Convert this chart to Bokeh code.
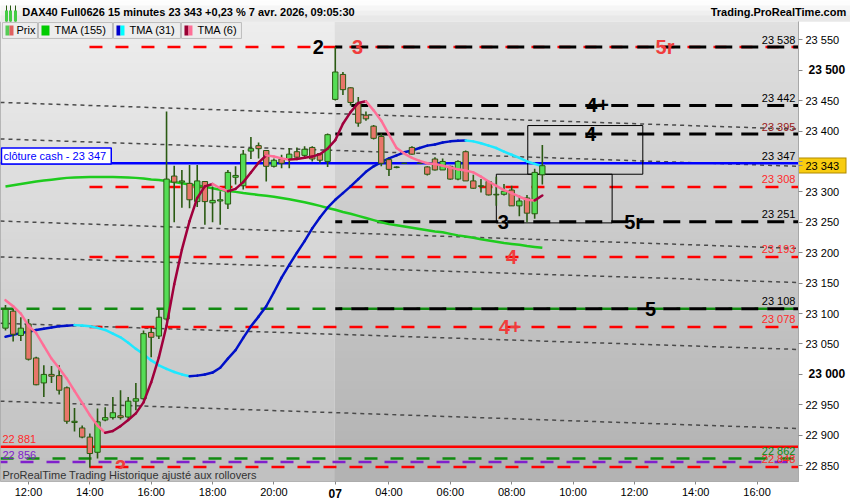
import numpy as np
from bokeh.plotting import figure
from bokeh.models import Range1d, FixedTicker, Label, BoxAnnotation, LinearAxis
from bokeh.embed import file_html
from bokeh.resources import INLINE

# ---------------- data ----------------
time_ticks = [3, 11, 19, 27, 35, 43, 50, 58, 66, 74, 82, 90, 98]
time_labels = ["12:00", "14:00", "16:00", "18:00", "20:00", "07", "04:00",
               "06:00", "08:00", "10:00", "12:00", "14:00", "16:00"]
bold_time_ticks = [43]
price_ticks = [22850, 22900, 22950, 23000, 23050, 23100, 23150, 23200,
               23250, 23300, 23350, 23400, 23450, 23500, 23550]
bold_price_ticks = [23000, 23500]

header_title = "DAX40 Full0626 15 minutes 23 343 +0,23 % 7 avr. 2026, 09:05:30"
header_site = "Trading.ProRealTime.com"

opens = [23076, 23104, 23064, 23083, 23027, 22986, 23000, 22998, 22978, 22921,
         22912, 22897, 22872, 22925, 22929, 22932, 22930, 22956, 22960, 23069,
         23063, 23091, 23326, 23316, 23314, 23284, 23317, 23282, 23285, 23280,
         23324, 23310, 23367, 23376, 23368, 23342, 23354, 23354, 23366, 23360,
         23373, 23363, 23350,
         23452, 23493, 23471, 23446, 23426, 23408, 23391, 23353, 23340, 23347,
         23373, 23347, 23341, 23354, 23336, 23342, 23321, 23366, 23318, 23309,
         23317, 23295, 23296, 23303, 23277, 23290, 23264, 23328]
highs = [23114, 23108, 23094, 23091, 23029, 23015, 23014, 23015, 22980, 22945,
         22916, 22903, 22944, 22946, 22963, 22974, 22963, 22986, 23072, 23077,
         23107, 23432, 23343, 23336, 23344, 23344, 23318, 23309, 23301, 23336,
         23342, 23369, 23390, 23381, 23369, 23355, 23361, 23372, 23373, 23375,
         23375, 23363, 23396,
         23538, 23497, 23472, 23456, 23432, 23410, 23396, 23355, 23342, 23348,
         23375, 23348, 23342, 23357, 23355, 23343, 23352, 23368, 23328, 23321,
         23318, 23325, 23313, 23310, 23294, 23295, 23338, 23377]
lows = [23072, 23054, 23055, 23023, 22982, 22963, 22986, 22967, 22919, 22906,
        22895, 22847, 22862, 22923, 22926, 22926, 22927, 22941, 22957, 23028,
        23058, 23088, 23250, 23274, 23273, 23275, 23246, 23250, 23246, 23272,
        23312, 23304, 23354, 23355, 23317, 23340, 23339, 23339, 23353, 23354,
        23350, 23347, 23341,
        23450, 23459, 23442, 23407, 23417, 23386, 23342, 23326, 23339, 23346,
        23361, 23346, 23327, 23335, 23336, 23320, 23319, 23318, 23305, 23299,
        23294, 23277, 23294, 23277, 23260, 23250, 23256, 23312]
closes = [23107, 23066, 23076, 23025, 22983, 23000, 22997, 22974, 22923, 22923,
          22897, 22870, 22922, 22929, 22937, 22929, 22956, 22960, 23067, 23061,
          23094, 23321, 23316, 23318, 23287, 23318, 23284, 23286, 23287, 23332,
          23327, 23362, 23371, 23371, 23342, 23352, 23347, 23362, 23357, 23370,
          23354, 23352, 23394,
          23497, 23468, 23447, 23413, 23420, 23388, 23347, 23337, 23341, 23347,
          23362, 23347, 23329, 23336, 23350, 23321, 23350, 23318, 23306, 23310,
          23295, 23296, 23301, 23277, 23285, 23265, 23332, 23343]

tma155 = [23309, 23311, 23313, 23315, 23317, 23318.5, 23320, 23321.5, 23323, 23323.5,
          23324, 23324.3, 23324.5, 23324.5, 23324.3, 23324, 23323.6, 23323, 23322, 23320.5,
          23319.5, 23318, 23316, 23314, 23312, 23310.5, 23308.5, 23306, 23303.5, 23301.5,
          23300, 23298, 23296.5, 23295, 23293.5, 23292, 23290, 23288, 23285.5, 23283,
          23280, 23277, 23273.5, 23270.5, 23267, 23264, 23260.5, 23257, 23253.5, 23250,
          23247, 23245, 23243, 23241, 23239, 23237, 23235, 23233.5, 23231, 23228.5,
          23226.5, 23224.5, 23222, 23220, 23218, 23216, 23214.5, 23213, 23211, 23209.5, 23208]
tma31 = [23062, 23065, 23068, 23070, 23073, 23075, 23077, 23079, 23080, 23081,
         23080.5, 23079, 23076.5, 23073, 23067, 23061, 23052, 23042, 23033, 23023,
         23015, 23009, 23004, 23000, 22997, 22998, 23000, 23003, 23011, 23026,
         23040, 23060, 23079, 23095, 23112, 23135, 23159, 23180, 23200, 23219,
         23240, 23258, 23274, 23287, 23298, 23309, 23321, 23333, 23342, 23349,
         23355, 23360, 23365, 23368, 23372, 23376, 23378, 23381, 23383, 23384,
         23384.5, 23383, 23380, 23376, 23372, 23366, 23361, 23356, 23350, 23346, 23342]
tma6 = [23122, 23112, 23100, 23080, 23068, 23047, 23026, 23010, 22993, 22973,
        22953, 22933, 22916, 22904, 22907, 22915, 22925, 22936, 22954, 22987,
        23028, 23080, 23148, 23205, 23252, 23290, 23309, 23313, 23306, 23301,
        23305, 23316, 23332, 23348, 23360, 23358, 23355, 23353, 23354, 23356,
        23358, 23362, 23371, 23385, 23412, 23431, 23446, 23449, 23434, 23417,
        23394, 23372, 23363, 23356, 23351, 23347, 23346, 23343, 23340, 23337,
        23335, 23332, 23325, 23317, 23310, 23303, 23298, 23292, 23287, 23286, 23294]

red_levels = [23538, 23308, 23193, 23078, 22848]
black_levels = [23538, 23442, 23395, 23251, 23108]
green_levels = [23108, 22862]
purple_levels = [22856]
support_level = 22881
cash_close = 23347
last_price = 23343

channel_start = [23447, 23387, 23252, 23193, 23084, 22956]
channel_end = [23403, 23342, 23207, 23151, 23041, 22911]

zone_left = [68.1, 64.0]
zone_right = [83.1, 79.1]
zone_bottom = [23329, 23249]
zone_top = [23409, 23329]

mark_text = ["2", "3", "5r", "4+", "4", "3", "5r", "4", "5", "4+", "2"]
mark_level = [23538, 23538, 23538, 23442, 23395, 23251, 23251, 23193, 23108, 23078, 22848]
mark_slot = [40.8, 45.9, 86.0, 77.2, 76.3, 64.9, 81.9, 66.0, 84.1, 65.8, 15.0]
mark_red = [False, True, True, False, False, False, False, True, False, True, True]

right_labels = [23538, 23442, 23395, 23347, 23308, 23251, 23193, 23108, 23078, 22862, 22848]
right_label_colors = ["#000000", "#000000", "#9a1a1a", "#000000", "#ff2a2a", "#000000",
                      "#ff2a2a", "#000000", "#ff2a2a", "#108a10", "#ff2a2a"]

# ---------------- helpers ----------------
def fmt(v):
    return f"{v:,.0f}".replace(",", " ")


X0, X1 = -0.65, 103.4
Y0, Y1 = 22824, 23580


def X(px):
    return (px - 5.0) / 7.67


def Y(py):
    return 23550 - (py - 39.3) / 0.6114


FONT = "Liberation Sans"


def gradient(top, bottom, n=120):
    img = np.empty((n, 1), dtype=np.uint32)
    v = img.view(dtype=np.uint8).reshape((n, 1, 4))
    g = np.linspace(bottom, top, n).astype(np.uint8)
    v[:, 0, 0] = g
    v[:, 0, 1] = g
    v[:, 0, 2] = g
    v[:, 0, 3] = 255
    return img


def flat_axis(ticks, labels=None, **kw):
    """Axis that occupies no room of its own (used for header, price tag, bold labels)."""
    base = dict(ticker=FixedTicker(ticks=ticks),
                major_label_overrides=labels if labels is not None else {t: "" for t in ticks},
                axis_line_color=None, major_tick_in=0, major_tick_out=0,
                minor_tick_in=0, minor_tick_out=0, minor_tick_line_color=None,
                major_label_standoff=0, major_label_text_font=FONT,
                major_label_text_color="#000000")
    base.update(kw)
    return LinearAxis(**base)


# ---------------- figure ----------------
p = figure(width=850, height=500, x_range=Range1d(X0, X1), y_range=Range1d(Y0, Y1),
           output_backend="svg", toolbar_location=None, y_axis_location=None,
           x_axis_location=None,
           min_border_left=0, min_border_right=52, min_border_top=21, min_border_bottom=17,
           border_fill_color="white", outline_line_color="#a8a8a8")
p.grid.visible = False

split = 42.9
p.image_rgba(image=[gradient(238, 192)], x=X0, y=Y0, dw=split - X0, dh=Y1 - Y0)
p.image_rgba(image=[gradient(224, 178)], x=split, y=Y0, dw=X1 - split + 1, dh=Y1 - Y0)

# sloping channel lines
p.segment(x0=[X0] * len(channel_start), y0=channel_start, x1=[X1] * len(channel_end), y1=channel_end,
          line_color="#4a4a4a", line_width=1.5, line_dash="4 4")

# horizontal levels
p.segment(x0=[X0] * len(green_levels), y0=green_levels, x1=[X1] * len(green_levels), y1=green_levels,
          line_color="#108a10", line_width=2.5, line_dash="13 13")
p.segment(x0=[X0] * len(purple_levels), y0=purple_levels, x1=[X1] * len(purple_levels), y1=purple_levels,
          line_color="#8020cc", line_width=2.5, line_dash="13 13", line_dash_offset=6)
p.segment(x0=[10.95] * len(red_levels), y0=red_levels, x1=[X1] * len(red_levels), y1=red_levels,
          line_color="#ff0000", line_width=2.5, line_dash="13 13")
p.segment(x0=[43.0] * len(black_levels), y0=black_levels, x1=[X1] * len(black_levels), y1=black_levels,
          line_color="#000000", line_width=3, line_dash="17 9", line_dash_offset=10)
p.segment(x0=[X0], y0=[support_level], x1=[X1], y1=[support_level], line_color="#ff0000", line_width=2.5)
p.segment(x0=[X0], y0=[cash_close], x1=[X1], y1=[cash_close], line_color="#0000ff", line_width=2.5)

# zones
p.quad(left=zone_left, right=zone_right, bottom=zone_bottom, top=zone_top,
       fill_color=None, line_color="#000000", line_width=1)

# moving averages
idx = list(range(len(closes)))
p.line(idx, tma155, line_color="#1ecb1e", line_width=2.5)


def colored(vals, up, down):
    x0 = idx[:-1]
    x1 = idx[1:]
    y0 = vals[:-1]
    y1 = vals[1:]
    cols = [up if b >= a else down for a, b in zip(y0, y1)]
    p.segment(x0=x0, y0=y0, x1=x1, y1=y1, line_color=cols, line_width=2.5, line_cap="round")


colored(tma31, "#0010c8", "#1ee8ff")

# candles
inc = [c >= o for o, c in zip(opens, closes)]
p.segment(x0=idx, y0=lows, x1=idx, y1=highs, line_color="#2a5a12", line_width=1.6)
p.vbar(x=idx, width=0.7, top=[max(o, c) for o, c in zip(opens, closes)],
       bottom=[min(o, c) for o, c in zip(opens, closes)],
       fill_color=["#55dd55" if u else "#e8766a" for u in inc],
       line_color="#2a5a12", line_width=1)

colored(tma6, "#a0003c", "#ff6f97")

# ---------------- header (above the frame) ----------------
hx = [X(425)]
for length, shade in [(21, "#fdfdfd"), (16, "#f6f6f6"), (11, "#efefef"), (6, "#e8e8e8")]:
    p.add_layout(flat_axis(hx, major_tick_in=-length, major_tick_line_width=850,
                           major_tick_line_color=shade), "above")
icon_x = [X(6), X(10.5), X(15)]
p.add_layout(flat_axis(icon_x, major_tick_in=-16, major_tick_line_width=1,
                       major_tick_line_color="#2a5a12"), "above")
p.add_layout(flat_axis(icon_x, major_tick_in=-11, major_tick_line_width=3,
                       major_tick_line_color="#44cc44"), "above")
p.add_layout(flat_axis([X(188), X(778)],
                       labels={X(188): header_title, X(778): header_site},
                       major_label_standoff=4, major_label_text_font_size="11px",
                       major_label_text_font_style="bold"), "above")

# ---------------- axes ----------------
# current price tag: zero-size axes whose single tick is drawn as a filled bar
p.add_layout(flat_axis([last_price], major_tick_in=-48, major_tick_line_width=16,
                       major_tick_line_color="#b08a00"), "right")
p.add_layout(flat_axis([last_price], major_tick_in=-47, major_tick_line_width=14,
                       major_tick_line_color="#f8cc10"), "right")

axis_ticks = price_ticks + [last_price]
overrides = {t: ("" if t in bold_price_ticks else fmt(t)) for t in price_ticks}
overrides[23350] = ""          # hidden behind the price tag in the original
overrides[last_price] = fmt(last_price)
yax = LinearAxis(ticker=FixedTicker(ticks=axis_ticks), major_label_overrides=overrides,
                 axis_line_color="#a8a8a8", major_tick_in=0, major_tick_out=4,
                 major_tick_line_color="#888888", minor_tick_line_color=None,
                 minor_tick_in=0, minor_tick_out=0, major_label_standoff=3, major_label_text_font=FONT,
                 major_label_text_font_size="11px", major_label_text_color="#000000")
p.add_layout(yax, "right")
p.add_layout(flat_axis(bold_price_ticks, labels={t: fmt(t) for t in bold_price_ticks},
                       major_tick_line_color=None, major_label_standoff=-34,
                       major_label_text_font_size="12px", major_label_text_font_style="bold"), "right")

xax = LinearAxis(ticker=FixedTicker(ticks=time_ticks),
                 major_label_overrides={t: ("" if t in bold_time_ticks else s)
                                        for t, s in zip(time_ticks, time_labels)},
                 axis_line_color=None, major_tick_in=0, major_tick_out=3,
                 major_tick_line_color="#888888", minor_tick_line_color=None,
                 minor_tick_in=0, minor_tick_out=0, major_label_standoff=1,
                 major_label_text_font=FONT, major_label_text_font_size="11px",
                 major_label_text_color="#000000")
p.add_layout(xax, "below")
p.add_layout(flat_axis(bold_time_ticks,
                       labels={t: s for t, s in zip(time_ticks, time_labels) if t in bold_time_ticks},
                       major_tick_line_color=None, major_label_standoff=-12,
                       major_label_text_font_size="12px", major_label_text_font_style="bold"), "below")

# ---------------- annotations ----------------
for t, lv, s, r in zip(mark_text, mark_level, mark_slot, mark_red):
    p.add_layout(Label(x=s, y=lv, text=t, text_align="center", text_baseline="middle",
                       text_font=FONT, text_font_style="bold", text_font_size="20px",
                       text_color="#f03c3c" if r else "#000000"))

# status strip at the foot of the chart (hides what lies under it)
p.add_layout(BoxAnnotation(left=X0, right=split, bottom=Y0, top=Y(470.5), fill_color="#c1c1c1",
                           fill_alpha=1, line_color=None))
p.add_layout(BoxAnnotation(left=split, right=X1, bottom=Y0, top=Y(470.5), fill_color="#b3b3b3",
                           fill_alpha=1, line_color=None))

for lv, c in zip(right_labels, right_label_colors):
    p.add_layout(Label(x=X(795), y=lv + 2.5, text=fmt(lv), text_align="right", text_baseline="bottom",
                       text_font=FONT, text_font_size="11px", text_color=c))

p.add_layout(Label(x=X(2), y=support_level + 2.5, text=fmt(support_level), text_align="left",
                   text_baseline="bottom", text_font=FONT, text_font_size="11px", text_color="#ff2a2a"))
p.add_layout(Label(x=X(2), y=purple_levels[0] + 2.5, text=fmt(purple_levels[0]), text_align="left",
                   text_baseline="bottom", text_font=FONT, text_font_size="11px", text_color="#8020cc"))

p.add_layout(Label(x=X(1), y=Y(156), text="clôture cash -  " + fmt(cash_close), text_align="left",
                   text_baseline="middle", text_font=FONT, text_font_size="11px", text_color="#0000ff",
                   background_fill_color="white", border_line_color="#0000ff", border_line_width=1.5,
                   padding=2))

# legend row
for l, r in [(2, 37), (38, 112), (113, 180), (181, 241)]:
    p.add_layout(BoxAnnotation(left=X(l), right=X(r), top=Y(22), bottom=Y(38),
                               fill_color="#ededed", fill_alpha=1, line_color="#bdbdbd",
                               line_alpha=1, line_width=1))
for l, r, c in [(5, 9, "#55cc55"), (9, 13, "#e06060"), (41, 49, "#00cc00"), (116, 120, "#0000cc"),
                (120, 124, "#00ffff"), (184, 188, "#990033"), (188, 192, "#ff6f97")]:
    p.add_layout(BoxAnnotation(left=X(l), right=X(r), top=Y(25), bottom=Y(35),
                               fill_color=c, fill_alpha=1, line_color=None))
for t, l in [("Prix", 16), ("TMA (155)", 54), ("TMA (31)", 129), ("TMA (6)", 197)]:
    p.add_layout(Label(x=X(l), y=Y(30), text=t, text_align="left", text_baseline="middle",
                       text_font=FONT, text_font_size="11px", text_color="#000000"))

p.add_layout(Label(x=X(2), y=Y(477), text="ProRealTime Trading  Historique ajusté aux rollovers",
                   text_align="left", text_baseline="middle", text_font=FONT, text_font_size="11px",
                   text_color="#333333"))

open("out.html", "w").write(file_html(p, INLINE))
